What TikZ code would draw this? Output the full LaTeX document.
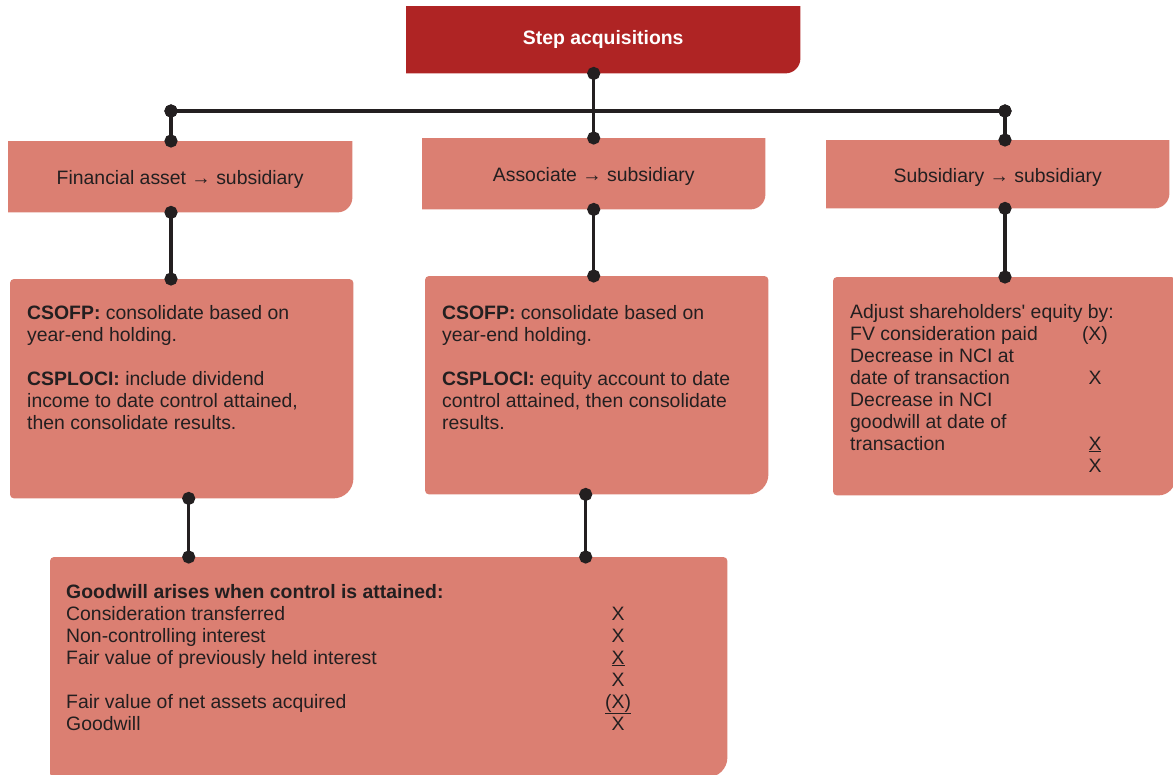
\documentclass[tikz,border=0pt]{standalone}
\usepackage{fontspec}
\setmainfont{Liberation Sans}
\usepackage{xcolor}
\usetikzlibrary{arrows.meta, positioning, calc, backgrounds}

\definecolor{headred}{HTML}{AF2424}
\definecolor{boxpink}{HTML}{DB7F72}
\definecolor{inkgrey}{HTML}{231F20}

\newcommand\boxfont{\fontsize{19.4}{22}\selectfont}
% fill a box: #1 node, #2 colour, #3 radius bottom right, #4 radius other corners
\newcommand\tabfill[4]{%
  \fill[#2] ($(#1.north west)+(0pt,-#4)$) arc[start angle=180, end angle=90, radius=#4]
    -- ($(#1.north east)+(-#4,0pt)$) arc[start angle=90, end angle=0, radius=#4]
    -- ($(#1.south east)+(0pt,#3)$) arc[start angle=0, end angle=-90, radius=#3]
    -- ($(#1.south west)+(#4,0pt)$) arc[start angle=270, end angle=180, radius=#4]
    -- cycle;}

\begin{document}
\begin{tikzpicture}[x=1pt, y=1pt,
  every node/.style={font=\boxfont, text=inkgrey},
  box/.style={rectangle, inner sep=0pt, anchor=north west},
  headbox/.style={box, text height=14pt, text depth=4pt},
  kindbox/.style={box, text height=18pt, text depth=2pt},
  boxtext/.style={anchor=base west, inner sep=0pt},
  link/.style={line width=3.5pt, draw=inkgrey, {Circle[length=13pt]}-{Circle[length=13pt]},
    shorten <=-6.5pt, shorten >=-6.5pt}]
\useasboundingbox (0,0) rectangle (1173,-774);

% boxes
\node[headbox, minimum width=394pt, minimum height=67pt, text=white, font=\boxfont\bfseries] (head) at (406,-6) {Step acquisitions};
\node[kindbox, minimum width=344pt, minimum height=71pt] (fin) at (8,-141) {Financial asset → subsidiary};
\node[kindbox, minimum width=343pt, minimum height=71pt] (assoc) at (422,-138) {Associate → subsidiary};
\node[kindbox, minimum width=343pt, minimum height=68pt] (subs) at (826,-140) {Subsidiary → subsidiary};
\node[box, minimum width=343pt, minimum height=219pt] (finres) at (10,-279) {};
\node[box, minimum width=343pt, minimum height=218pt] (assocres) at (425,-276) {};
\node[box, minimum width=342pt, minimum height=218pt] (subsres) at (833,-277) {};
\node[box, minimum width=677pt, minimum height=220pt] (gw) at (50,-557) {};

\begin{scope}[on background layer]
  \tabfill{head}{headred}{15pt}{0.1pt}
  \tabfill{fin}{boxpink}{15pt}{0.1pt}
  \tabfill{assoc}{boxpink}{15pt}{0.1pt}
  \tabfill{subs}{boxpink}{15pt}{0.1pt}
  \tabfill{finres}{boxpink}{20pt}{4pt}
  \tabfill{assocres}{boxpink}{20pt}{4pt}
  \tabfill{subsres}{boxpink}{17pt}{4pt}
  \tabfill{gw}{boxpink}{20pt}{4pt}
\end{scope}

% texts
\node[boxtext] (fintext) at (27,-319) {\begin{tabular}[t]{@{}l@{}}
  \textbf{CSOFP:} consolidate based on\\
  year-end holding.\\
  \\
  \textbf{CSPLOCI:} include dividend\\
  income to date control attained,\\
  then consolidate results.
\end{tabular}};
\node[boxtext] (assoctext) at (442,-319) {\begin{tabular}[t]{@{}l@{}}
  \textbf{CSOFP:} consolidate based on\\
  year-end holding.\\
  \\
  \textbf{CSPLOCI:} equity account to date\\
  control attained, then consolidate\\
  results.
\end{tabular}};
\node[boxtext] (substext) at (850,-318) {\begin{tabular}[t]{@{}p{226pt}@{}c@{}}
  \multicolumn{2}{@{}l@{}}{Adjust shareholders\textquotesingle{} equity by:}\\
  FV consideration paid & (X)\\
  Decrease in NCI at & \\
  date of transaction & X\\
  Decrease in NCI & \\
  goodwill at date of & \\
  transaction & \underline{X}\\
  & X
\end{tabular}};
\node[boxtext] (gwtext) at (66,-598) {\begin{tabular}[t]{@{}p{539pt}@{}c@{}}
  \textbf{Goodwill arises when control is attained:} & \\
  Consideration transferred & X\\
  Non-controlling interest & X\\
  Fair value of previously held interest & \underline{X}\\
  & X\\
  Fair value of net assets acquired & \underline{(X)}\\
  Goodwill & X
\end{tabular}};

% connectors
\coordinate (busL) at (171,-111);
\coordinate (busR) at (1005,-111);
\draw[link] (busL) -- (busR);
\draw[link] (head.south -| assoc.north) -- (assoc.north);
\draw[link] (busL) -- (busL |- fin.north);
\draw[link] (busR) -- (busR |- subs.north);
\draw[link] (busL |- fin.south) -- (busL |- finres.north);
\draw[link] (assoc.south) -- (assoc.south |- assocres.north);
\draw[link] (busR |- subs.south) -- (busR |- subsres.north);
\draw[link] ([xshift=7pt]finres.south) -- ([xshift=7pt]finres.south |- gw.north);
\draw[link] ([xshift=-11pt]assocres.south) -- ([xshift=-11pt]assocres.south |- gw.north);
\end{tikzpicture}
\end{document}
